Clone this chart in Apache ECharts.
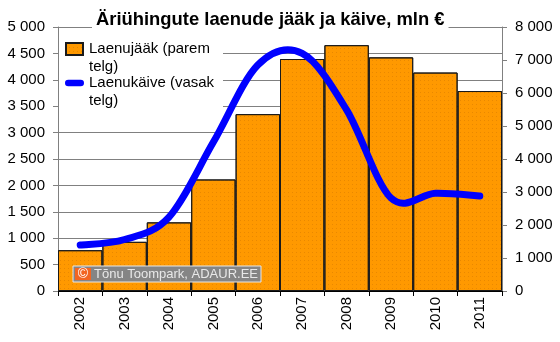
<!DOCTYPE html>
<html>
<head>
<meta charset="utf-8">
<script src="https://cdn.jsdelivr.net/npm/echarts@6/dist/echarts.min.js"></script>
<style>
  html, body { margin: 0; padding: 0; background: #fff; }
  #chart { width: 560px; height: 342px; }
</style>
</head>
<body>
<div id="chart"></div>
<script>
// Business loans in Estonia: outstanding stock (bars, right axis) and turnover (line, left axis), mln €
const years = ['2002', '2003', '2004', '2005', '2006', '2007', '2008', '2009', '2010', '2011'];
const laenujaak = [1236, 1490, 2080, 3380, 5360, 7030, 7450, 7080, 6620, 6060];
const laenukaive = [870, 975, 1400, 2820, 4280, 4500, 3430, 1760, 1850, 1800];
const leftTicks = { min: 0, max: 5000, interval: 500 };
const rightTicks = { min: 0, max: 8000, interval: 1000 };

const NAME_STOCK = 'Laenujääk (parem\ntelg)';
const NAME_TURNOVER = 'Laenukäive (vasak\ntelg)';
const FONT = '"Liberation Sans", Arial, sans-serif';

// Thousands separated with a space
function fmt(v) {
  if (v < 1000) return String(v);
  return Math.floor(v / 1000) + ' ' + String(v % 1000).padStart(3, '0');
}

// Catmull-Rom spline through the given pixel points, written as cubic Bezier path data
function splinePath(pts) {
  let d = 'M' + pts[0][0] + ',' + pts[0][1];
  for (let i = 0; i < pts.length - 1; i++) {
    const p0 = pts[Math.max(i - 1, 0)];
    const p1 = pts[i];
    const p2 = pts[i + 1];
    const p3 = pts[Math.min(i + 2, pts.length - 1)];
    const c1x = p1[0] + (p2[0] - p0[0]) / 6, c1y = p1[1] + (p2[1] - p0[1]) / 6;
    const c2x = p2[0] - (p3[0] - p1[0]) / 6, c2y = p2[1] - (p3[1] - p1[1]) / 6;
    d += 'C' + c1x + ',' + c1y + ' ' + c2x + ',' + c2y + ' ' + p2[0] + ',' + p2[1];
  }
  return d;
}

const chart = echarts.init(document.getElementById('chart'), null, { renderer: 'canvas' });

chart.setOption({
  backgroundColor: '#fff',
  animation: false,
  textStyle: { fontFamily: FONT },
  title: {
    text: 'Äriühingute laenude jääk ja käive, mln €',
    left: 92,
    top: 10,
    padding: [1, 4, 1, 4],
    backgroundColor: '#fff',
    textStyle: { fontFamily: FONT, fontSize: 18.4, fontWeight: 'bold', color: '#000' }
  },
  grid: { left: 58, right: 58, top: 27, bottom: 51, containLabel: false },
  legend: {
    orient: 'vertical',
    left: 65,
    top: 22,
    padding: 0,
    itemGap: -20,
    itemWidth: 19,
    itemHeight: 12,
    // a leading blank line keeps the icon level with the first text line
    formatter: name => '\n' + name,
    textStyle: { fontFamily: FONT, fontSize: 15, color: '#000', lineHeight: 18 },
    data: [
      { name: NAME_STOCK, icon: 'path://M0,0h17v12h-17z' },
      { name: NAME_TURNOVER, icon: 'path://M3.5,0h13a3.5,3.5 0 0 1 0,7h-13a3.5,3.5 0 0 1 0,-7z' }
    ]
  },
  graphic: {
    elements: [
      // white panel behind the legend
      {
        type: 'rect', id: 'legendPanel', z: 3, silent: true,
        shape: { x: 59, y: 37, width: 164, height: 72 },
        style: { fill: '#ffffff' }
      },
      // copyright badge
      {
        type: 'rect', id: 'badgeBox', z: 10,
        shape: { x: 73, y: 266, width: 188, height: 16 },
        style: { fill: '#858585', stroke: '#e6e6e6', lineWidth: 1 }
      },
      {
        type: 'rect', id: 'badgeIcon', z: 11,
        shape: { x: 75, y: 268, width: 16, height: 12 },
        style: { fill: '#f26522' }
      },
      {
        type: 'text', id: 'badgeC', z: 12, x: 83, y: 274.5,
        style: { text: '©', fill: '#ffffff', fontSize: 14, fontFamily: FONT,
          align: 'center', verticalAlign: 'middle' }
      },
      {
        type: 'text', id: 'badgeText', z: 12, x: 94, y: 274.5,
        style: { text: 'Tõnu Toompark, ADAUR.EE', fill: '#e8e8e8', fontSize: 13, fontFamily: FONT,
          align: 'left', verticalAlign: 'middle' }
      }
    ]
  },
  xAxis: {
    type: 'category',
    data: years,
    boundaryGap: true,
    axisLine: { lineStyle: { color: '#000', width: 1 } },
    axisTick: { show: true, length: 5, lineStyle: { color: '#000' } },
    axisLabel: { rotate: 90, margin: 6, fontSize: 15, color: '#000', fontFamily: FONT }
  },
  yAxis: [
    {
      type: 'value',
      min: leftTicks.min, max: leftTicks.max, interval: leftTicks.interval,
      position: 'left',
      axisLine: { show: true, lineStyle: { color: '#808080' } },
      axisTick: { show: true, length: 5, lineStyle: { color: '#808080' } },
      splitLine: { show: true, lineStyle: { color: '#808080', width: 1 } },
      axisLabel: { formatter: fmt, fontSize: 15, color: '#000', margin: 13, fontFamily: FONT }
    },
    {
      type: 'value',
      min: rightTicks.min, max: rightTicks.max, interval: rightTicks.interval,
      position: 'right',
      axisLine: { show: true, lineStyle: { color: '#808080' } },
      axisTick: { show: true, length: 5, lineStyle: { color: '#808080' } },
      splitLine: { show: false },
      axisLabel: { formatter: fmt, fontSize: 15, color: '#000', margin: 13, fontFamily: FONT }
    }
  ],
  series: [
    {
      name: NAME_STOCK,
      type: 'bar',
      yAxisIndex: 1,
      data: laenujaak,
      barCategoryGap: '0%',
      itemStyle: {
        color: '#ff9900',
        borderColor: '#1a1a1a',
        borderWidth: 1,
        decal: {
          symbol: 'rect',
          symbolSize: 1,
          dashArrayX: [1, 3],
          dashArrayY: [1, 3],
          color: 'rgba(200, 110, 0, 0.4)',
          rotation: 0
        }
      },
      z: 2
    },
    {
      name: NAME_TURNOVER,
      type: 'custom',
      yAxisIndex: 0,
      data: laenukaive.map((v, i) => [i, v]),
      encode: { x: 0, y: 1 },
      itemStyle: { color: '#0000ff' },
      z: 5,
      renderItem: function (params, api) {
        if (params.dataIndex !== 0) return null;
        const pts = laenukaive.map((v, i) => api.coord([i, v]));
        return {
          type: 'path',
          shape: { pathData: splinePath(pts) },
          style: { fill: null, stroke: '#0000ff', lineWidth: 7, lineCap: 'round', lineJoin: 'round' }
        };
      }
    }
  ]
});
</script>
</body>
</html>
